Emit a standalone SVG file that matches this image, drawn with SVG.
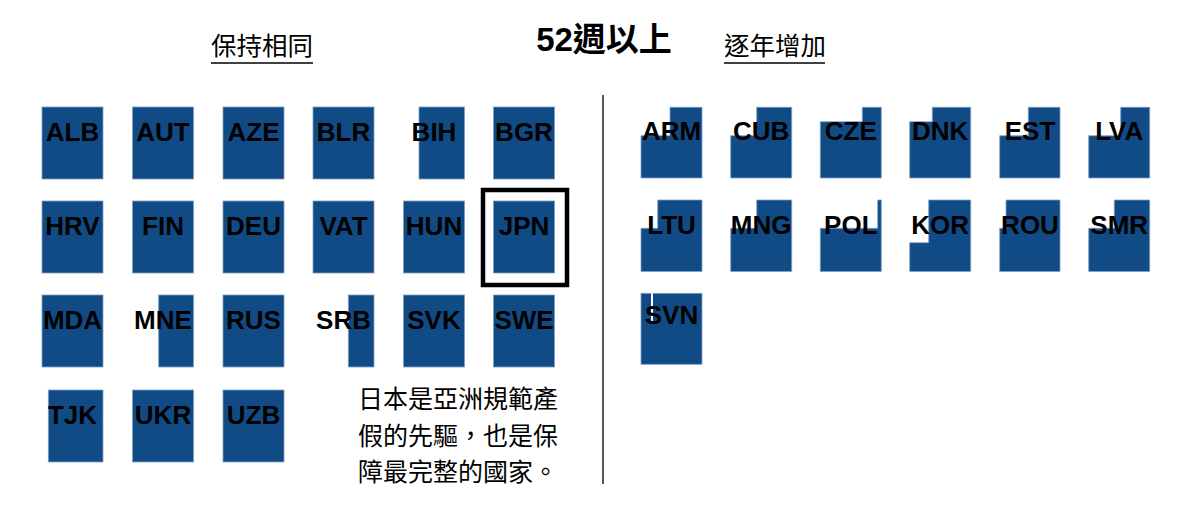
<svg xmlns="http://www.w3.org/2000/svg" width="1180" height="522" viewBox="0 0 1180 522">
<style>
.c{fill:#114b86;stroke:#7f9fc6;stroke-width:0.8}
.l{font-family:"Liberation Sans",Arial,sans-serif;font-weight:bold;font-size:26px;fill:#000;text-anchor:middle}
.h{font-family:"Noto Sans CJK TC","Noto Sans CJK SC",sans-serif;font-size:25.5px;fill:#000;text-anchor:middle}
.t{font-family:"Liberation Sans",Arial,"Noto Sans CJK TC",sans-serif;font-weight:bold;font-size:33px;fill:#000;text-anchor:middle}
.cap{font-family:"Noto Sans CJK TC","Noto Sans CJK SC",sans-serif;font-size:25px;fill:#000}
</style>
<rect width="1180" height="522" fill="#fff"/>
<g id="title"><text class="t" x="604" y="51">52週以上</text></g>
<g id="header-left"><text class="h" x="262" y="55">保持相同</text><line x1="211" y1="63" x2="313" y2="63" stroke="#000" stroke-width="1.6"/></g>
<g id="header-right"><text class="h" x="775" y="55">逐年增加</text><line x1="724" y1="63" x2="825" y2="63" stroke="#000" stroke-width="1.6"/></g>
<g id="connectors"><line x1="603" y1="95" x2="603" y2="484" stroke="#555" stroke-width="2"/></g>
<g id="left-grid">
<g id="ALB"><rect class="c" x="42" y="107" width="61" height="72"/><text class="l" x="72.5" y="140.5">ALB</text></g>
<g id="AUT"><rect class="c" x="132.5" y="107" width="61" height="72"/><text class="l" x="163" y="140.5">AUT</text></g>
<g id="AZE"><rect class="c" x="223" y="107" width="61" height="72"/><text class="l" x="253.5" y="140.5">AZE</text></g>
<g id="BLR"><rect class="c" x="313" y="107" width="61" height="72"/><text class="l" x="343.5" y="140.5">BLR</text></g>
<g id="BIH"><rect class="c" x="419" y="107" width="45.5" height="72"/><text class="l" x="434" y="140.5">BIH</text></g>
<g id="BGR"><rect class="c" x="493.5" y="107" width="61" height="72"/><text class="l" x="524" y="140.5">BGR</text></g>
<g id="HRV"><rect class="c" x="42" y="201" width="61" height="72"/><text class="l" x="72.5" y="234.5">HRV</text></g>
<g id="FIN"><rect class="c" x="132.5" y="201" width="61" height="72"/><text class="l" x="163" y="234.5">FIN</text></g>
<g id="DEU"><rect class="c" x="223" y="201" width="61" height="72"/><text class="l" x="253.5" y="234.5">DEU</text></g>
<g id="VAT"><rect class="c" x="313" y="201" width="61" height="72"/><text class="l" x="343.5" y="234.5">VAT</text></g>
<g id="HUN"><rect class="c" x="403.5" y="201" width="61" height="72"/><text class="l" x="434" y="234.5">HUN</text></g>
<g id="JPN"><rect class="c" x="493.5" y="201" width="61" height="72"/><text class="l" x="524" y="234.5">JPN</text><rect x="483" y="190" width="84" height="95" fill="none" stroke="#000" stroke-width="4.5"/></g>
<g id="MDA"><rect class="c" x="42" y="295" width="61" height="72"/><text class="l" x="72.5" y="329">MDA</text></g>
<g id="MNE"><rect class="c" x="158.7" y="295" width="34.8" height="72"/><text class="l" x="163" y="329">MNE</text></g>
<g id="RUS"><rect class="c" x="223" y="295" width="61" height="72"/><text class="l" x="253.5" y="329">RUS</text></g>
<g id="SRB"><rect class="c" x="348.3" y="295" width="25.7" height="72"/><text class="l" x="343.5" y="329">SRB</text></g>
<g id="SVK"><rect class="c" x="403.5" y="295" width="61" height="72"/><text class="l" x="434" y="329">SVK</text></g>
<g id="SWE"><rect class="c" x="493.5" y="295" width="61" height="72"/><text class="l" x="524" y="329">SWE</text></g>
<g id="TJK"><rect class="c" x="48.3" y="390" width="54.7" height="72"/><text class="l" x="72.5" y="424">TJK</text></g>
<g id="UKR"><rect class="c" x="132.5" y="390" width="61" height="72"/><text class="l" x="163" y="424">UKR</text></g>
<g id="UZB"><rect class="c" x="223" y="390" width="61" height="72"/><text class="l" x="253.5" y="424">UZB</text></g>
</g>
<g id="caption"><text class="cap" x="358" y="408">日本是亞洲規範產</text><text class="cap" x="358" y="445">假的先驅，也是保</text><text class="cap" x="358" y="481">障最完整的國家。</text></g>
<g id="right-grid">
<g id="ARM"><path class="c" d="M670 107.3H702V178H641V135.7H670Z"/><text class="l" x="671.5" y="140">ARM</text></g>
<g id="CUB"><path class="c" d="M756.7 107.3H791.7V178H730.7V135.7H756.7Z"/><text class="l" x="761.2" y="140">CUB</text></g>
<g id="CZE"><path class="c" d="M862.3 107.3H881.3V178H820.3V121.7H862.3Z"/><text class="l" x="850.8" y="140">CZE</text></g>
<g id="DNK"><path class="c" d="M932.3 107.3H970.7V178H909.7V121.7H932.3Z"/><text class="l" x="940.2" y="140">DNK</text></g>
<g id="EST"><path class="c" d="M1028.3 107.3H1060V178H999.7V135.7H1028.3Z"/><text class="l" x="1030" y="140">EST</text></g>
<g id="LVA"><path class="c" d="M1120.7 107.3H1149.7V178H1088.7V135.7H1120.7Z"/><text class="l" x="1119.2" y="140">LVA</text></g>
<g id="LTU"><path class="c" d="M657.7 200H702V271.5H641V228.3H657.7Z"/><text class="l" x="671.5" y="233.5">LTU</text></g>
<g id="MNG"><path class="c" d="M756.7 200H791.7V271.5H730.7V228.3H756.7Z"/><text class="l" x="761.2" y="233.5">MNG</text></g>
<g id="POL"><path class="c" d="M877.7 200H881.3V271.5H820.3V228.3H877.7Z"/><text class="l" x="850.8" y="233.5">POL</text></g>
<g id="KOR"><path class="c" d="M928.7 200H970.7V271.5H909.7V242.7H928.7Z"/><text class="l" x="940.2" y="233.5">KOR</text></g>
<g id="ROU"><path class="c" d="M1006 200H1060V271.5H999.7V228.3H1006Z"/><text class="l" x="1030" y="233.5">ROU</text></g>
<g id="SMR"><path class="c" d="M1114.3 200H1149.7V271.5H1088.7V228.3H1114.3Z"/><text class="l" x="1119.2" y="233.5">SMR</text></g>
<g id="SVN"><rect class="c" x="641" y="293.3" width="61" height="71"/><rect x="651" y="293.3" width="2" height="29" fill="#fff"/><text class="l" x="671.5" y="324">SVN</text></g>
</g>
</svg>
